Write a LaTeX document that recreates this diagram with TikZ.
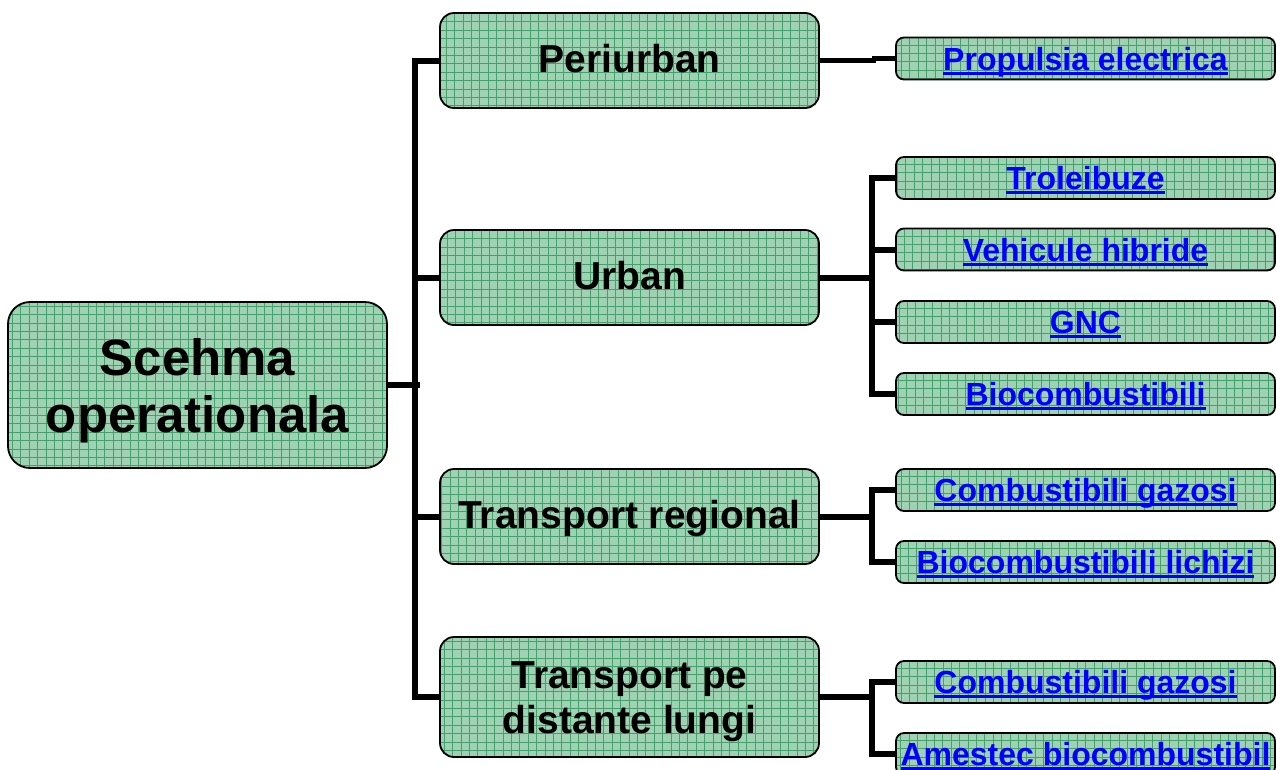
\documentclass[tikz,border=0pt]{standalone}
\usepackage{fontspec}
\setmainfont{Liberation Sans}
\definecolor{boxfill}{RGB}{158,210,178}
\definecolor{gridc}{RGB}{70,160,110}
\definecolor{linkblue}{RGB}{0,0,255}
\newcommand\linkul[1]{\setbox0\hbox{#1}\rlap{\rule[-0.145em]{\wd0}{0.09em}}\box0}
\tikzset{
  gridbox/.style={draw=black, line width=1.8pt, inner sep=0pt, align=center,
    path picture={\fill[boxfill] (path picture bounding box.south west) rectangle (path picture bounding box.north east);
      \draw[gridc, line width=0.5pt] (path picture bounding box.south west) grid[step=8.4pt] (path picture bounding box.north east);}},
  rootbox/.style={gridbox, minimum width=379pt, minimum height=166pt, rounded corners=22pt,
    font=\bfseries\fontsize{51}{57}\selectfont, text height=94pt, text depth=-10pt},
  midbox/.style={gridbox, minimum width=379pt, minimum height=95pt, rounded corners=14pt,
    font=\bfseries\fontsize{39}{45}\selectfont, text height=29pt, text depth=6pt},
  leafbox/.style={gridbox, minimum width=379pt, minimum height=42pt, rounded corners=8pt,
    font=\bfseries\fontsize{32}{36}\selectfont, text=linkblue, text height=23pt, text depth=0pt},
  conn/.style={line width=6pt}
}
\begin{document}
\begin{tikzpicture}[x=1pt,y=1pt]
\useasboundingbox (0,0) rectangle (1276,-769);
\clip (0,0) rectangle (1276,-769);
% root
\node[rootbox] (root) at (197.5,-385) {Scehma\\operationala};
% level 1
\node[midbox] (peri) at (629.5,-60.5) {Periurban};
\node[midbox] (urban) at (629.5,-277.5) {Urban};
\node[midbox] (reg) at (629.5,-516.5) {Transport regional};
\node[midbox, minimum height=120pt, text height=73pt, text depth=-17pt] (longd) at (629.5,-697) {Transport pe\\distante lungi};
% level 2
\node[leafbox] (prop) at (1085.5,-58.5) {\linkul{Propulsia electrica}};
\node[leafbox] (trol) at (1085.5,-178) {\linkul{Troleibuze}};
\node[leafbox] (hibr) at (1085.5,-249.5) {\linkul{Vehicule hibride}};
\node[leafbox] (gnc) at (1085.5,-322) {\linkul{GNC}};
\node[leafbox] (bio) at (1085.5,-394) {\linkul{Biocombustibili}};
\node[leafbox] (gaz1) at (1085.5,-490) {\linkul{Combustibili gazosi}};
\node[leafbox] (lich) at (1085.5,-562) {\linkul{Biocombustibili lichizi}};
\node[leafbox] (gaz2) at (1085.5,-682) {\linkul{Combustibili gazosi}};
\node[leafbox] (ames) at (1085.5,-754) {\linkul{Amestec biocombustibil}};
% connectors level 1
\draw[conn] (root.east) -- ++(32,0);
\draw[conn] (peri.west) -- ++(-24,0) |- (longd.west);
\draw[conn] (urban.west) -- ++(-24,0);
\draw[conn] (reg.west) -- ++(-24,0);
% connectors level 2
\draw[conn, line width=4.5pt] (peri.east) -- ++(54,0) |- (prop.west);
\draw[conn] (urban.east) -- ++(54,0);
\draw[conn] (trol.west) -- ++(-23,0) |- (bio.west);
\draw[conn] (hibr.west) -- ++(-23,0);
\draw[conn] (gnc.west) -- ++(-23,0);
\draw[conn] (reg.east) -- ++(54,0);
\draw[conn] (gaz1.west) -- ++(-23,0) |- (lich.west);
\draw[conn] (longd.east) -- ++(54,0);
\draw[conn] (gaz2.west) -- ++(-23,0) |- (ames.west);
\end{tikzpicture}
\end{document}
